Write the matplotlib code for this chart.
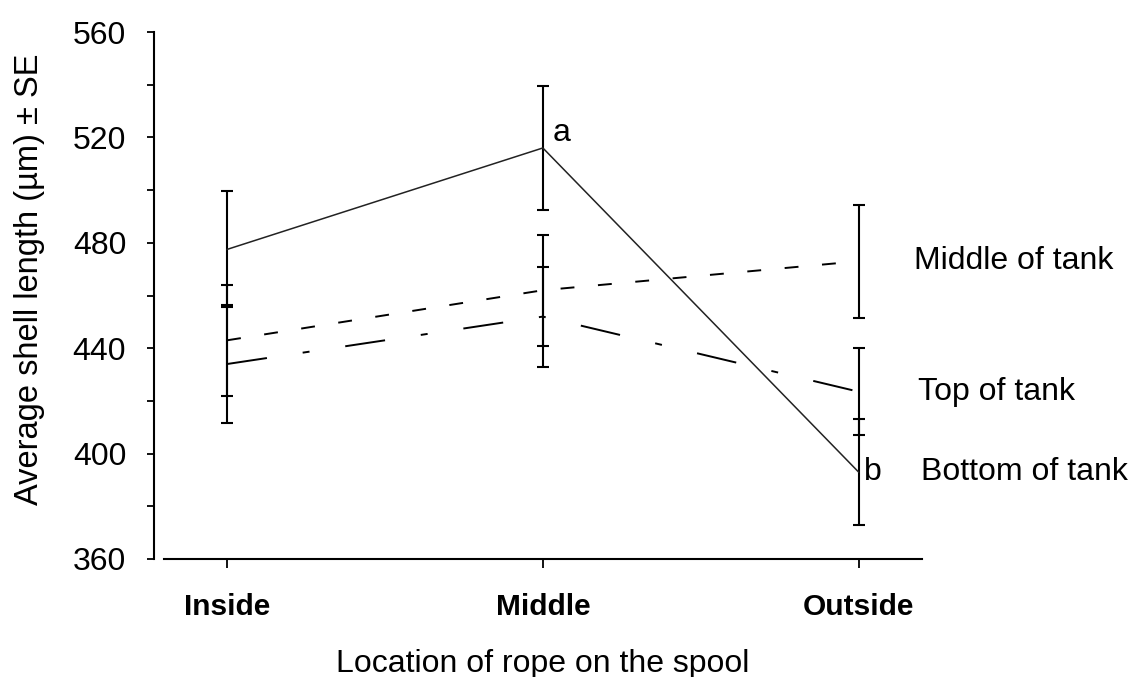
import numpy as np
import matplotlib
matplotlib.use('Agg')
import matplotlib.pyplot as plt

# data (shell length, µm, mean +/- SE)
categories = ['Inside', 'Middle', 'Outside']
bottom_mean = [477.5, 516, 393]
bottom_se = [22, 23.5, 20]
middle_mean = [443, 462, 473]
middle_se = [21, 21, 21.5]
top_mean = [434, 452, 423.5]
top_se = [22.5, 19, 16.5]

plt.rcParams['font.family'] = ['Liberation Sans', 'DejaVu Sans']
plt.rcParams['lines.scale_dashes'] = False

fig = plt.figure(figsize=(11.3, 6.77), dpi=100)
ax = fig.add_axes([0.1451, 0.1743, 0.6706, 0.7784])

x = np.arange(len(categories))

series = [
    ('Bottom of tank', bottom_mean, bottom_se, dict(color='#222222', lw=1.1, ls='-')),
    ('Middle of tank', middle_mean, middle_se, dict(color='black', lw=1.4, ls=(0, (10, 17)))),
    ('Top of tank',    top_mean,    top_se,    dict(color='black', lw=1.4, ls=(0, (29, 26, 5, 26)))),
]

for name, m, se, style in series:
    ax.errorbar(x, m, yerr=se, fmt='none', ecolor='black', elinewidth=1.5,
                capsize=4.3, capthick=1.5, zorder=2)
    ax.plot(x, m, zorder=3, **style)

# labels next to the outside point of each line
label_off = {'Middle of tank': 40, 'Top of tank': 43, 'Bottom of tank': 45}
for name, m, se, style in series:
    ax.annotate(name, xy=(x[-1], m[-1]), xytext=(label_off[name], 0),
                textcoords='offset points', ha='left', va='center',
                fontsize=23, annotation_clip=False)

# significance letters
ax.annotate('a', xy=(x[1], bottom_mean[1]), xytext=(7, 11), textcoords='offset points',
            ha='left', va='center', fontsize=23)
ax.annotate('b', xy=(x[2], bottom_mean[2]), xytext=(4, 0), textcoords='offset points',
            ha='left', va='center', fontsize=23)

ax.set_xlim(-0.2, 2.2)
ax.set_ylim(360, 560)
ax.set_yticks(np.arange(360, 561, 40))
ax.set_yticks(np.arange(380, 560, 40), minor=True)
ax.set_xticks(x)
ax.set_xticklabels(categories, fontsize=21.5, fontweight='bold')
ax.tick_params(axis='y', which='both', direction='out', length=5, width=1.3,
               labelsize=23, pad=15)
ax.tick_params(axis='x', direction='out', length=6.5, width=1.3, pad=18)

for s in ['top', 'right']:
    ax.spines[s].set_visible(False)
ax.spines['left'].set_position(('outward', 7.2))
ax.spines['left'].set_linewidth(1.5)
ax.spines['bottom'].set_linewidth(1.5)

ax.set_xlabel('Location of rope on the spool', fontsize=23, labelpad=20)
ax.set_ylabel('Average shell length (µm) ± SE', fontsize=23.5, labelpad=20)
ax.yaxis.label.set_y(0.53)

fig.savefig('out.png', dpi=100)
